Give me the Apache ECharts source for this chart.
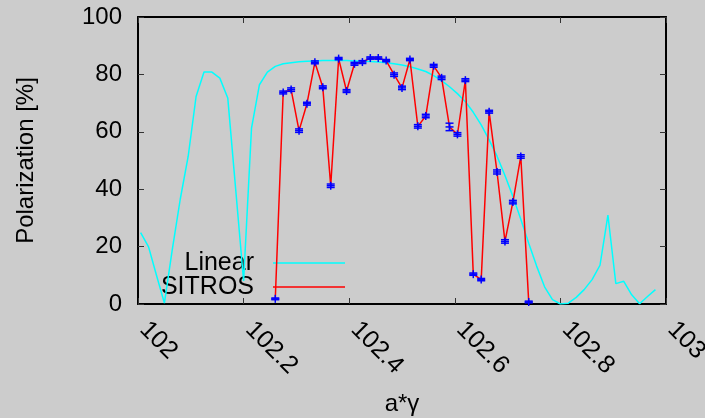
<!DOCTYPE html>
<html>
<head>
<meta charset="utf-8">
<script src="https://cdn.jsdelivr.net/npm/echarts@6/dist/echarts.min.js"></script>
<style>
html,body{margin:0;padding:0;background:#cccccc;}
#chart{width:705px;height:418px;}
</style>
</head>
<body>
<div id="chart"></div>
<script>
// ---- data ----
const linearX = [102.005,102.02,102.035,102.05,102.065,102.08,102.095,102.11,102.125,102.14,
  102.155,102.17,102.185,102.2,102.215,102.23,102.245,102.26,102.275,102.29,
  102.305,102.32,102.335,102.35,102.365,102.38,102.395,102.41,102.425,102.44,
  102.455,102.47,102.485,102.5,102.515,102.53,102.545,102.56,102.575,102.59,
  102.605,102.62,102.635,102.65,102.665,102.68,102.695,102.71,102.725,102.74,
  102.755,102.77,102.785,102.8,102.815,102.83,102.845,102.86,102.875,102.89,
  102.905,102.92,102.935,102.95,102.965,102.98];
const linearY = [24.9,19.9,10,0.3,19,36.5,51.4,72.3,80.8,80.8,
  78.7,71.8,40,8,61.3,76.4,80.8,82.8,83.7,84.1,
  84.4,84.6,84.7,84.8,84.8,84.8,84.8,84.7,84.6,84.5,
  84.3,84.1,83.7,83.3,82.7,81.9,81.0,79.6,77.8,75.7,
  73.3,70.5,66.8,62.4,57.2,51.5,44.8,37.5,29.5,21.2,
  13.2,6.0,1.5,0.0,0.3,2.3,5.0,8.5,13.5,31.0,
  7.1,7.9,3.2,0.1,2.6,5.0];
const sitrosX = [102.26,102.275,102.29,102.305,102.32,102.335,102.35,102.365,102.38,102.395,
  102.41,102.425,102.44,102.455,102.47,102.485,102.5,102.515,102.53,102.545,
  102.56,102.575,102.59,102.605,102.62,102.635,102.65,102.665,102.68,102.695,
  102.71,102.725,102.74];
const sitrosY = [1.8,73.7,74.7,60.4,69.8,84.2,75.5,41.2,85.5,74.2,
  83.7,84.3,85.7,85.7,84.8,79.9,75.3,85.2,61.9,65.5,
  83.0,78.8,61.7,59.1,78.0,10.4,8.5,67.0,46.0,21.8,
  35.5,51.4,0.7];
const sitrosErr = [0.3,0.5,0.6,0.6,0.5,0.5,0.5,0.6,0.4,0.5,
  0.5,0.5,0.4,0.4,0.4,0.6,0.6,0.4,0.6,0.6,
  0.5,0.6,1.3,0.6,0.5,0.4,0.4,0.5,0.7,0.6,
  0.6,0.6,0.3];
const xTicks = {min:102, max:103, step:0.2};
const yTicks = {min:0, max:100, step:20};
const legendNames = ['Linear','SITROS'];

const FONT = 'Liberation Sans';
const linearData = linearX.map((x,i)=>[x, linearY[i]]);
const sitrosData = sitrosX.map((x,i)=>[x, sitrosY[i]]);
const errData = sitrosX.map((x,i)=>[x, sitrosY[i], sitrosErr[i]]);

const chart = echarts.init(document.getElementById('chart'), null, {renderer:'canvas'});
const tickStyle = {show:true, inside:true, length:6, lineStyle:{color:'#333', width:1}};
const lineStyleAxis = {show:true, onZero:false, lineStyle:{color:'#000', width:2}};

chart.setOption({
  backgroundColor:'#cccccc',
  animation:false,
  grid:{left:138, right:39, top:17, bottom:114, containLabel:false, outerBoundsMode:'none'},
  xAxis:[{
    type:'value', min:xTicks.min, max:xTicks.max, interval:xTicks.step, position:'bottom',
    axisLine:lineStyleAxis, axisTick:tickStyle, splitLine:{show:false},
    axisLabel:{rotate:-45, margin:16, padding:[0,0,0,8], fontSize:25, fontFamily:FONT, color:'#000', hideOverlap:false, showMaxLabel:true, showMinLabel:true},
    name:'a*\u03b3', nameLocation:'middle', nameGap:88,
    nameTextStyle:{fontSize:24, fontFamily:FONT, color:'#000'}
  },{
    type:'value', min:xTicks.min, max:xTicks.max, interval:xTicks.step, position:'top',
    axisLine:lineStyleAxis, axisTick:tickStyle, axisLabel:{show:false}, splitLine:{show:false}
  }],
  yAxis:[{
    type:'value', min:yTicks.min, max:yTicks.max, interval:yTicks.step, position:'left',
    axisLine:lineStyleAxis, axisTick:tickStyle, splitLine:{show:false},
    axisLabel:{margin:16, fontSize:24, fontFamily:FONT, color:'#000'},
    name:'Polarization [%]', nameLocation:'middle', nameGap:100, nameRotate:90,
    nameTextStyle:{fontSize:24, fontFamily:FONT, color:'#000'}
  },{
    type:'value', min:yTicks.min, max:yTicks.max, interval:yTicks.step, position:'right',
    axisLine:lineStyleAxis, axisTick:tickStyle, axisLabel:{show:false}, splitLine:{show:false}
  }],
  graphic:[
    {type:'text', x:254, y:263, style:{text:legendNames[0], fill:'#000', font:'25px "Liberation Sans"', textAlign:'right', textVerticalAlign:'middle'}},
    {type:'line', x:0, y:0, shape:{x1:273, y1:263, x2:345, y2:263}, style:{stroke:'#00ffff', lineWidth:1.5}},
    {type:'text', x:254, y:287, style:{text:legendNames[1], fill:'#000', font:'25px "Liberation Sans"', textAlign:'right', textVerticalAlign:'middle'}},
    {type:'line', x:0, y:0, shape:{x1:273, y1:287, x2:345, y2:287}, style:{stroke:'#ff0000', lineWidth:1.5}}
  ],
  series:[
    {name:legendNames[0], type:'line', data:linearData, showSymbol:false, symbol:'none',
     lineStyle:{color:'#00ffff', width:1.5}, itemStyle:{color:'#00ffff'}, clip:true, z:2},
    {name:legendNames[1], type:'line', data:sitrosData, showSymbol:false, symbol:'none',
     lineStyle:{color:'#ff0000', width:1.5}, itemStyle:{color:'#ff0000'}, z:3},
    {name:'SITROS errors', type:'custom', data:errData, z:4,
     encode:{x:0, y:1},
     renderItem:function(params, api){
       const x = api.value(0), y = api.value(1), e = api.value(2);
       const c = api.coord([x,y]);
       const t = api.coord([x,y+e]);
       const b = api.coord([x,y-e]);
       const w = 4;
       const st = {stroke:'#0000ff', lineWidth:1.5};
       return {type:'group', children:[
         {type:'line', shape:{x1:t[0], y1:t[1], x2:b[0], y2:b[1]}, style:st},
         {type:'line', shape:{x1:t[0]-w, y1:t[1], x2:t[0]+w, y2:t[1]}, style:st},
         {type:'line', shape:{x1:b[0]-w, y1:b[1], x2:b[0]+w, y2:b[1]}, style:st},
         {type:'line', shape:{x1:c[0]-w, y1:c[1], x2:c[0]+w, y2:c[1]}, style:st},
         {type:'line', shape:{x1:c[0], y1:c[1]-w, x2:c[0], y2:c[1]+w}, style:st}
       ]};
     }
    }
  ]
});
</script>
</body>
</html>
